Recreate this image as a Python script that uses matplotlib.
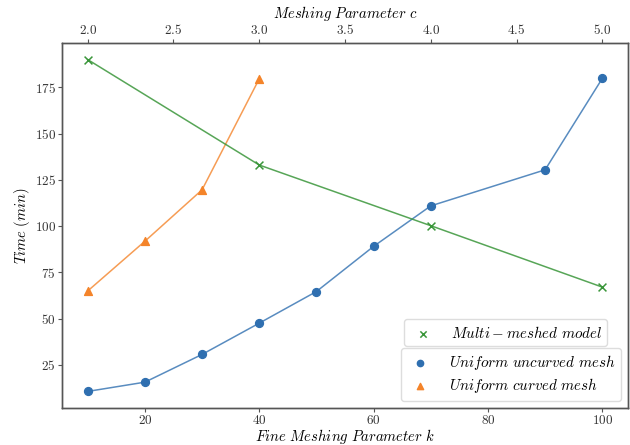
import matplotlib
matplotlib.use('Agg')
import matplotlib.pyplot as plt

# data
k_uncurved = [10, 20, 30, 40, 50, 60, 70, 90, 100]
t_uncurved = [10.6, 15.6, 30.6, 47.5, 64.6, 89.0, 110.9, 130.4, 179.8]
k_curved = [10, 20, 30, 40]
t_curved = [64.9, 91.8, 119.6, 179.6]
c_multi = [2.0, 3.0, 4.0, 5.0]
t_multi = [190.0, 133.0, 100.2, 67.0]

plt.rcParams['font.family'] = 'serif'
plt.rcParams['font.serif'] = ['cmr10']
plt.rcParams['mathtext.fontset'] = 'cm'
plt.rcParams['axes.formatter.use_mathtext'] = True

blue = '#2f6fb0'
orange = '#f4842a'
green = '#3a963a'
spine_col = '#555555'

fig = plt.figure(figsize=(6.3, 4.45), dpi=100)
ax = fig.add_axes([62 / 630, 1 - 408 / 445, 566 / 630, 365 / 445])

# bottom axis: uniform meshes
ax.plot(k_uncurved, t_uncurved, color=blue, lw=1.1, alpha=0.8)
h1 = ax.scatter(k_uncurved, t_uncurved, color=blue, s=32, zorder=3,
                label=r'$Uniform\ uncurved\ mesh$')
ax.plot(k_curved, t_curved, color=orange, lw=1.1, alpha=0.8)
h2 = ax.scatter(k_curved, t_curved, color=orange, marker='^', s=32, zorder=3,
                label=r'$Uniform\ curved\ mesh$')

# top axis: multi-meshed model
ax2 = ax.twiny()
ax2.plot(c_multi, t_multi, color=green, lw=1.1, alpha=0.85)
h3 = ax2.scatter(c_multi, t_multi, color=green, marker='x', s=32, lw=1.1,
                 zorder=3, label=r'$Multi-meshed\ model$')

for a in (ax, ax2):
    for s in a.spines.values():
        s.set_color(spine_col)
        s.set_linewidth(1.0)
    a.tick_params(colors='#333333', labelsize=9.5, length=3, pad=1.5,
                  color=spine_col)

ax.set_xlabel(r'$Fine\ Meshing\ Parameter\ k$', fontsize=10.6, labelpad=0)
ax.set_ylabel(r'$Time\ (min)$', fontsize=10.6, labelpad=2)
ax2.set_xlabel(r'$Meshing\ Parameter\ c$', fontsize=10.6, labelpad=3.5)

leg_kw = dict(fontsize=10.8, framealpha=1, edgecolor='#dddddd',
              borderpad=0.35, labelspacing=0.3, handletextpad=1.0,
              handlelength=1.8, markerscale=0.8)
leg1 = ax2.legend(handles=[h3], loc='lower left',
                  bbox_to_anchor=(0.604, 0.170), borderaxespad=0, **leg_kw)
leg2 = ax2.legend(handles=[h1, h2], loc='lower right', **leg_kw)
ax2.add_artist(leg1)

fig.savefig('out.png', dpi=100)
